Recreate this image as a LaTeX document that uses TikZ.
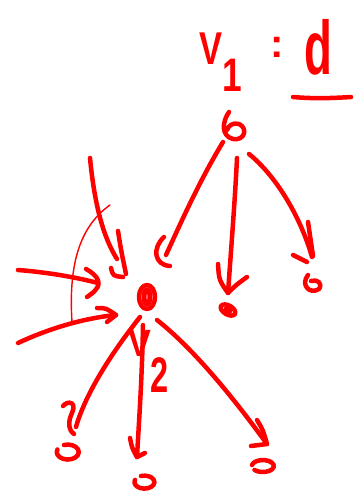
\documentclass[tikz,border=0pt]{standalone}
\usepackage{fontspec}
\setmainfont{Liberation Sans}
\begin{document}
\begin{tikzpicture}[x=1pt,y=-1pt,
  pen/.style={draw=red, line width=4.5pt, line cap=round, line join=round},
  thinpen/.style={draw=red, line width=1.4pt, line cap=round},
  lbl/.style={text=red, inner sep=0pt, font=\fontsize{#1}{#1}\selectfont\bfseries}]
\useasboundingbox (0,0) rectangle (355,494);

% ---- labels
\node[lbl=46, xscale=0.75] (tV1) at (211,49) {V};
\node[lbl=47, xscale=0.75] (t1) at (232,75) {1};
\node[lbl=40] (tcolon) at (277,47) {:};
\node[lbl=76, xscale=0.6] (td) at (318,47) {d};
\draw[pen] (293,97) .. controls (315,99) and (335,98) .. (351,97);
\node[lbl=38, xscale=0.9] (tV2) at (140,343) {V};
\node[lbl=50, xscale=0.65] (t2) at (160,375) {2};

% ---- graph nodes (positions)
\coordinate (v1) at (235,130);
\coordinate (v2) at (147,297);
\coordinate (b) at (228,310);
\coordinate (c) at (312,283);
\coordinate (d) at (70,452);
\coordinate (e) at (146,482);
\coordinate (f) at (262,467);

% v1 drawn like a "6"
\draw[pen] (229,112) .. controls (222,122) and (221,136) .. (233,139)
  .. controls (245,141) and (248,128) .. (239,124)
  .. controls (233,122) and (228,126) .. (227,130);
% v2 (filled-looking ellipse)
\draw[pen] (v2) ellipse [x radius=8, y radius=12];
\draw[draw=red, line width=5pt] (v2) ellipse [x radius=3, y radius=7];
% b
\draw[pen] (b) ellipse [x radius=8, y radius=4.5, rotate=-30];
\draw[draw=red, line width=3pt] (b) ellipse [x radius=3, y radius=1.5, rotate=-30];
% c
\draw[pen] ([shift={(-4,-8)}]c) .. controls ([shift={(-12,2)}]c) and ([shift={(-2,12)}]c) .. ([shift={(7,6)}]c)
  .. controls ([shift={(11,0)}]c) and ([shift={(5,-4)}]c) .. ([shift={(-1,-2)}]c);
% d, e, f
\draw[pen] (d) ++(-6,-7) arc [start angle=250, end angle=560, x radius=11, y radius=7.5];
\draw[pen] (e) ++(-5,-6) arc [start angle=250, end angle=560, x radius=10, y radius=6.5];
\draw[pen] (f) ++(-10,-2) arc [start angle=190, end angle=500, x radius=11, y radius=6];

% ---- edges from v1
\coordinate (s1) at (223,142); \coordinate (t1e) at (166,255);
\draw[pen] (s1) .. controls (200,180) and (182,220) .. (t1e);
\draw[pen] (164,237) .. controls (152,248) and (154,265) .. (170,266);

\coordinate (s2) at (237,158); \coordinate (t2e) at (228,293);
\draw[pen] (s2) .. controls (235,200) and (231,250) .. (t2e);
\draw[pen] (218,264) .. controls (219,280) .. (t2e) .. controls (236,285) .. (247,277);

\coordinate (s3) at (249,154); \coordinate (t3e) at (312,257);
\draw[pen] (s3) .. controls (275,175) and (300,215) .. (t3e);
\draw[pen] (308,222) -- (313,256);
\draw[pen] (293,255) -- (307,262);

% ---- edges into v2
\coordinate (s4) at (90,158); \coordinate (t4e) at (117,259);
\draw[pen] (s4) .. controls (95,210) and (105,240) .. (t4e);
\draw[pen] (118,231) .. controls (121,250) .. (126,274);
\draw[pen] (111,268) .. controls (113,276) .. (123,277);

\coordinate (s5) at (18,270); \coordinate (t5e) at (98,283);
\draw[pen] (s5) .. controls (45,272) and (75,277) .. (t5e);
\draw[pen] (86,269) .. controls (97,275) and (101,282) .. (97,288) .. controls (94,292) .. (87,297);

\coordinate (s6) at (18,343); \coordinate (t6e) at (116,315);
\draw[pen] (s6) .. controls (50,328) and (85,318) .. (t6e);
\draw[pen] (97,308) .. controls (106,308) .. (t6e) .. controls (112,319) .. (107,322);

\draw[thinpen] (110,205) .. controls (82,225) and (68,260) .. (72,322);

% ---- edges from v2
\coordinate (s7) at (140,317); \coordinate (t7e) at (76,427);
\draw[pen] (s7) .. controls (110,355) and (85,395) .. (t7e);
\draw[pen] (63,406) .. controls (68,400) and (77,402) .. (72,413) .. controls (68,421) and (68,430) .. (74,434);

\coordinate (s8) at (143,325); \coordinate (t8e) at (137,457);
\draw[pen] (s8) .. controls (142,380) and (139,420) .. (t8e);
\draw[pen] (130,438) .. controls (132,448) .. (t8e) -- (145,453);

\coordinate (s9) at (157,320); \coordinate (t9e) at (267,444);
\draw[pen] (s9) .. controls (195,350) and (235,400) .. (t9e);
\draw[pen] (257,420) .. controls (263,430) .. (t9e) -- (251,446);
\end{tikzpicture}
\end{document}
